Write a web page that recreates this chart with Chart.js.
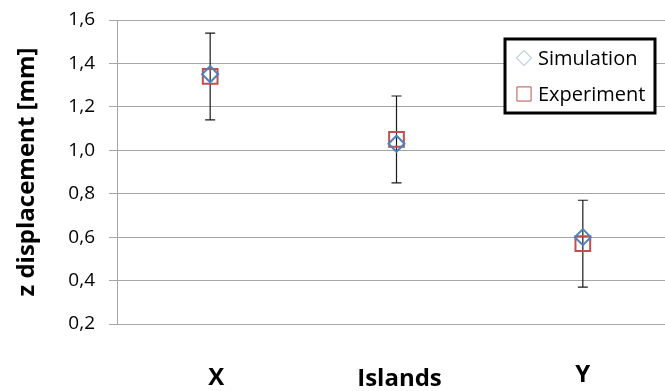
<!DOCTYPE html>
<html>
<head>
<meta charset="utf-8">
<script src="https://cdn.jsdelivr.net/npm/chart.js@4.4.0/dist/chart.umd.min.js"></script>
<style>
  html, body { margin: 0; padding: 0; background: #fff; overflow: hidden; }
  #dispChart { display: block; }
</style>
</head>
<body>
<canvas id="dispChart" width="676" height="391"></canvas>
<script>
// data
const categories = ['X', 'Islands', 'Y'];
const simulation = [1.35, 1.03, 0.60];
const experiment = [1.34, 1.05, 0.57];
const experimentErr = [0.20, 0.20, 0.20];
const yTicks = [0.2, 0.4, 0.6, 0.8, 1.0, 1.2, 1.4, 1.6];

const gridGray = '#a6a6a6';

// error bars around the experiment points
const errorBars = {
    id: 'errorBars',
    beforeDatasetsDraw(chart) {
        const ctx = chart.ctx;
        const xs = chart.scales.x, ys = chart.scales.y;
        ctx.save();
        ctx.strokeStyle = '#1a1a1a';
        ctx.lineWidth = 1.2;
        experiment.forEach((v, i) => {
            const x = xs.getPixelForValue(i);
            const top = ys.getPixelForValue(v + experimentErr[i]);
            const bot = ys.getPixelForValue(v - experimentErr[i]);
            ctx.beginPath();
            ctx.moveTo(x, top); ctx.lineTo(x, bot);
            ctx.moveTo(x - 5, top); ctx.lineTo(x + 5, top);
            ctx.moveTo(x - 5, bot); ctx.lineTo(x + 5, bot);
            ctx.stroke();
        });
        ctx.restore();
    }
};

// bold category labels under the plot
const catLabels = {
    id: 'catLabels',
    afterDraw(chart, args, opts) {
        const ctx = chart.ctx;
        const xs = chart.scales.x;
        ctx.save();
        ctx.font = 'bold 24px "Open Sans"';
        ctx.fillStyle = '#000';
        ctx.textAlign = 'center';
        ctx.textBaseline = 'alphabetic';
        categories.forEach((c, i) => {
            ctx.fillText(c, xs.getPixelForValue(i) + opts.dx[i], opts.y[i]);
        });
        ctx.restore();
    }
};

// legend box inside the plot
const boxLegend = {
    id: 'boxLegend',
    afterDraw(chart, args, opts) {
        const ctx = chart.ctx;
        const {x, y, w, h} = opts;
        ctx.save();
        ctx.fillStyle = '#fff';
        ctx.fillRect(x, y, w, h);
        ctx.strokeStyle = '#000';
        ctx.lineWidth = 3;
        ctx.strokeRect(x, y, w, h);
        ctx.font = '20px "Open Sans"';
        ctx.textBaseline = 'middle';
        chart.data.datasets.forEach((ds, i) => {
            const cy = y + 19 + i * 36;
            ctx.fillStyle = 'rgba(0,0,0,0)';
            ctx.strokeStyle = ds.legendColor;
            ctx.lineWidth = 1;
            Chart.helpers.drawPoint(ctx, {
                pointStyle: ds.pointStyle,
                radius: ds.legendRadius,
                borderWidth: 1,
                rotation: 0
            }, x + 19, cy);
            ctx.fillStyle = '#000';
            ctx.fillText(ds.label, x + 33, cy + 1);
        });
        ctx.restore();
    }
};

new Chart(document.getElementById('dispChart'), {
    type: 'line',
    data: {
        labels: categories,
        datasets: [
            {
                label: 'Simulation',
                data: simulation,
                showLine: false,
                pointStyle: 'rectRot',
                pointRadius: 8,
                pointBorderWidth: 2,
                pointBorderColor: '#4f81bd',
                pointBackgroundColor: 'rgba(0,0,0,0)',
                legendRadius: 7.5,
                legendColor: '#95b3d7'
            },
            {
                label: 'Experiment',
                data: experiment,
                showLine: false,
                pointStyle: 'rect',
                pointRadius: 10.4,
                pointBorderWidth: 2,
                pointBorderColor: '#c0504d',
                pointBackgroundColor: 'rgba(0,0,0,0)',
                legendRadius: 10,
                legendColor: '#c0504d'
            }
        ]
    },
    options: {
        responsive: false,
        animation: false,
        layout: { autoPadding: false, padding: { top: 20, bottom: 67, left: 0, right: 0 } },
        scales: {
            x: {
                display: false,
                offset: true
            },
            y: {
                min: 0.2,
                max: 1.6,
                afterFit: s => { s.width = 117; s.paddingTop = 0; s.paddingBottom = 0; },
                afterBuildTicks: s => { s.ticks = yTicks.map(v => ({ value: v })); },
                ticks: {
                    padding: 14,
                    color: '#000',
                    font: { family: 'Open Sans', size: 19 },
                    callback: v => v.toFixed(1).replace('.', ',')
                },
                grid: { color: gridGray, tickLength: 8 },
                border: { color: gridGray },
                title: {
                    display: true,
                    text: 'z displacement [mm]',
                    color: '#000',
                    font: { family: 'Open Sans', size: 24, weight: 'bold' },
                    padding: { top: 13, bottom: 0 }
                }
            }
        },
        plugins: {
            legend: { display: false },
            tooltip: { enabled: false },
            catLabels: { dx: [6, 3, 0], y: [385, 386, 382] },
            boxLegend: { x: 505, y: 39, w: 150, h: 74 }
        }
    },
    plugins: [errorBars, catLabels, boxLegend]
});
</script>
</body>
</html>
